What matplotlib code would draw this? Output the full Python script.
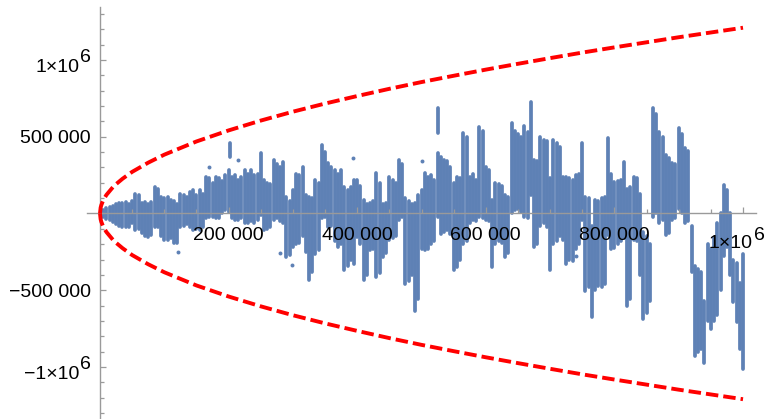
import numpy as np
import matplotlib
matplotlib.use("Agg")
import matplotlib.pyplot as plt
from matplotlib.ticker import MultipleLocator

plt.rcParams['font.family'] = ['Liberation Sans', 'DejaVu Sans']

# walk envelope, sampled every 5000 steps (values in thousands)
step_k = np.arange(0, 1001, 5)
lo_k = [0, -20, -35, -45, -55, -70, -80, -90, -85, -90,
        -60, -110, -100, -130, -150, -155, -140, -90, -85, -150,
        -175, -170, -160, -195, -190, -90, -80, -70, -90, -110,
        -100, -110, -90, -30, -25, -20, -30, -30, 0, 20,
        10, -30, -44, -40, -30, -65, -60, -50, -65, -40,
        -10, -110, -100, -90, -40, -30, -50, -60, -283, -270,
        -218, -200, -190, -150, -250, -436, -380, -262, -240, -30,
        -20, -87, -80, -180, -218, -200, -371, -340, -300, -327,
        -153, -200, -436, -400, -240, -230, -414, -390, -283, -260,
        -175, -160, -150, -40, -20, -458, -440, -400, -633, -560,
        -230, -240, -230, -200, -180, -20, -131, -120, -110, -131,
        -371, -350, -300, -200, -180, -60, -40, -50, -20, -30,
        -40, -50, -349, -200, -180, -190, -283, -260, 0, 20,
        30, 10, -20, -30, 120, -218, -200, -80, -60, -90,
        -371, -200, -180, -150, -175, -327, -300, -310, -230, -200,
        -40, -502, -480, -676, -500, -470, -480, -460, -140, -230,
        -227, -200, -180, -160, -600, -560, -170, -180, -400, -686,
        -650, -570, -20, 0, -60, -40, -142, -130, -40, -30,
        30, 0, -60, -50, -381, -927, -900, -880, -972, -700,
        -750, -700, -660, -500, -280, -220, -400, -580, -710, -880,
        -1015]
hi_k = [0, 25, 35, 45, 50, 60, 70, 65, 75, 60,
        80, 130, 120, 70, 75, 60, 75, 170, 160, 110,
        100, 110, 90, 80, 60, 130, 120, 110, 140, 150,
        120, 150, 130, 237, 230, 200, 240, 230, 210, 250,
        282, 240, 250, 220, 240, 280, 260, 282, 250, 260,
        392, 216, 200, 190, 347, 320, 300, 337, 110, 80,
        150, 260, 250, 304, 120, 110, 100, 216, 200, 445,
        400, 327, 300, 280, 260, 282, 174, 150, 170, 216,
        216, 180, 87, 60, 70, 80, 262, 200, 60, 70,
        240, 220, 200, 347, 320, 100, 80, 60, 70, 120,
        152, 262, 240, 250, 220, 392, 368, 350, 340, 300,
        200, 240, 230, 523, 500, 240, 260, 220, 565, 540,
        305, 280, 87, 196, 190, 180, 120, 110, 587, 540,
        520, 500, 567, 530, 728, 349, 340, 501, 480, 470,
        230, 480, 460, 430, 240, 240, 230, 220, 250, 260,
        458, 110, 100, -80, 90, 80, 100, 110, 490, 260,
        207, 210, 220, 338, 160, 170, 240, 230, 130, -120,
        -150, -200, 688, 650, 533, 500, 380, 360, 330, 320,
        556, 520, 425, 410, -80, -340, -360, -380, -570, -200,
        -230, -160, -60, 0, 183, 150, 0, -300, -320, -450,
        -262]

# isolated excursions and stray points (thousands)
spike_x_k = [202, 525]
spike_lo_k = [370, 523]
spike_hi_k = [460, 687]
dot_x_k = [121, 170, 215, 280, 298, 393, 500, 740]
dot_y_k = [-253, 303, 350, -255, -333, 360, 340, -280]

# bound curve (thousands)
bound_x_k = [0, 1, 2, 5, 10, 20, 25, 35, 50, 75, 100, 150, 200, 250, 300,
             350, 400, 450, 500, 550, 600, 650, 700, 750, 800, 850, 900,
             950, 1000]
bound_y_k = [0, 38, 54, 86, 121, 171, 191, 226, 271, 331, 383, 469, 541,
             605, 663, 716, 765, 812, 856, 897, 937, 975, 1012, 1048, 1082,
             1115, 1148, 1179, 1210]

blue = '#5E81B5'
axis_gray = '#9a9a9a'
fs = 14

fig = plt.figure(figsize=(7.76, 4.19), dpi=100)
ax = fig.add_axes([87 / 776, 0, 669 / 776, 412 / 419])

xs = np.array(step_k) * 1000
ax.vlines(xs, np.array(lo_k) * 1000, np.array(hi_k) * 1000,
          colors=blue, lw=2.7, capstyle='round', zorder=1)
ax.vlines(np.array(spike_x_k) * 1000, np.array(spike_lo_k) * 1000,
          np.array(spike_hi_k) * 1000, colors=blue, lw=2.7,
          capstyle='round', zorder=1)
ax.scatter(np.array(dot_x_k) * 1000, np.array(dot_y_k) * 1000,
           s=8, color=blue, lw=0, zorder=1)

bx = np.array(bound_x_k) * 1000
by = np.array(bound_y_k) * 1000
for sign in (1, -1):
    ax.plot(bx, sign * by, color='#FF0000', lw=2.8, dashes=[3.2, 1.3],
            dash_capstyle='butt', zorder=3)

ax.set_xlim(-20200, 1020200)
ax.set_ylim(-1.339e6, 1.345e6)

for side in ['top', 'right']:
    ax.spines[side].set_visible(False)
ax.spines['left'].set_position(('data', 0))
ax.spines['bottom'].set_position(('data', 0))
for side in ['left', 'bottom']:
    ax.spines[side].set_color(axis_gray)
    ax.spines[side].set_linewidth(1.0)

ax.set_xticks([200000, 400000, 600000, 800000, 1000000])
ax.set_xticklabels(['200 000', '400 000', '600 000', '800 000', ''])
ax.set_yticks([-1000000, -500000, 500000, 1000000])
ax.set_yticklabels(['', '\u2212500 000', '500 000', ''])
ax.xaxis.set_minor_locator(MultipleLocator(50000))
ax.yaxis.set_minor_locator(MultipleLocator(100000))

ax.tick_params(which='both', direction='in', colors=axis_gray,
               labelcolor='black', labelsize=fs, width=0.9)
ax.tick_params(which='major', length=4.5)
ax.tick_params(which='minor', length=3)
ax.tick_params(axis='x', pad=9.5)
ax.tick_params(axis='y', pad=6.5)


# 1x10^6 labels with a full-size raised exponent
def power_label(xy, mant, base_off, exp_off, ha_exp):
    ax.annotate(mant, xy=xy, xytext=base_off, textcoords='offset points',
                ha='right', va='baseline', fontsize=fs, annotation_clip=False)
    ax.annotate('6', xy=xy, xytext=exp_off, textcoords='offset points',
                ha=ha_exp, va='baseline', fontsize=fs, annotation_clip=False)


power_label((0, 1e6), '1\u00d710', (-15.0, -8.6), (-6.5, -1.8), 'right')
power_label((0, -1e6), '\u22121\u00d710', (-15.0, -8.6), (-6.5, -1.8), 'right')
power_label((1e6, 0), '1\u00d710', (6.5, -24.8), (8.0, -19.0), 'left')
ax.patch.set_alpha(0)

fig.savefig('out.png', dpi=100)
